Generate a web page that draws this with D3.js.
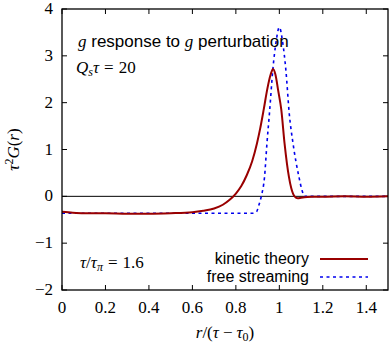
<!DOCTYPE html>
<html>
<head>
<meta charset="utf-8">
<script src="https://cdn.jsdelivr.net/npm/d3@7"></script>
<style>
  body { margin: 0; background: #fff; }
  svg { display: block; }
  .serif { font-family: "Liberation Serif", "DejaVu Serif", serif; }
  .sans { font-family: "Liberation Sans", Arial, sans-serif; }
</style>
</head>
<body>
<div id="chart"></div>
<script>
// kinetic theory curve
const kineticR = [0, 0.05, 0.1, 0.2, 0.3, 0.4, 0.5, 0.6, 0.65, 0.7, 0.74, 0.77, 0.8, 0.825, 0.85, 0.875, 0.897, 0.912, 0.928, 0.945, 0.96, 0.971, 0.982, 0.995, 1.009, 1.024, 1.035, 1.044, 1.055, 1.07, 1.085, 1.1, 1.15, 1.2, 1.3, 1.4, 1.5];
const kineticG = [-0.33, -0.35, -0.36, -0.36, -0.37, -0.37, -0.36, -0.34, -0.31, -0.26, -0.18, -0.08, 0.06, 0.22, 0.45, 0.75, 1.13, 1.45, 1.85, 2.3, 2.6, 2.72, 2.6, 2.25, 1.85, 1.13, 0.7, 0.42, 0.17, 0.0, -0.04, -0.03, -0.01, -0.01, 0.0, -0.01, 0.0];

// free streaming curve
const freeR = [0, 0.2, 0.4, 0.6, 0.8, 0.88, 0.895, 0.905, 0.917, 0.932, 0.943, 0.955, 0.97, 0.985, 1.0, 1.015, 1.03, 1.046, 1.063, 1.09, 1.105, 1.116, 1.13, 1.2, 1.3, 1.4, 1.5];
const freeG = [-0.36, -0.36, -0.36, -0.36, -0.36, -0.36, -0.33, -0.2, 0.0, 0.42, 1.13, 1.8, 2.7, 3.3, 3.61, 3.3, 2.7, 1.75, 1.13, 0.42, 0.12, 0.0, 0.0, 0.0, 0.0, 0.0, 0.0];

const xTicks = [0, 0.2, 0.4, 0.6, 0.8, 1, 1.2, 1.4];
const yTicks = [-2, -1, 0, 1, 2, 3, 4];

const width = 390;
const height = 345;
const marginTop = 9;
const marginRight = 2;
const marginBottom = 55;
const marginLeft = 62;

const x = d3.scaleLinear()
    .domain([0, 1.5])
    .range([marginLeft, width - marginRight]);

const y = d3.scaleLinear()
    .domain([-2, 4])
    .range([height - marginBottom, marginTop]);

const kinetic = kineticR.map((r, i) => ({r, g: kineticG[i]}));
const free = freeR.map((r, i) => ({r, g: freeG[i]}));

const line = d3.line()
    .x(d => x(d.r))
    .y(d => y(d.g))
    .curve(d3.curveMonotoneX);

const svg = d3.create("svg")
    .attr("width", width)
    .attr("height", height);

// zero line
svg.append("line")
    .attr("x1", x(0)).attr("x2", x(1.5))
    .attr("y1", y(0)).attr("y2", y(0))
    .attr("stroke", "#000")
    .attr("stroke-width", 1);

// ticks, inward on all four sides
const tickLen = 5;
const ticks = svg.append("g").attr("stroke", "#000").attr("stroke-width", 1);
xTicks.forEach(t => {
  ticks.append("line").attr("x1", x(t)).attr("x2", x(t)).attr("y1", y(-2)).attr("y2", y(-2) - tickLen);
  ticks.append("line").attr("x1", x(t)).attr("x2", x(t)).attr("y1", y(4)).attr("y2", y(4) + tickLen);
});
yTicks.forEach(t => {
  ticks.append("line").attr("x1", x(0)).attr("x2", x(0) + tickLen).attr("y1", y(t)).attr("y2", y(t));
  ticks.append("line").attr("x1", x(1.5)).attr("x2", x(1.5) - tickLen).attr("y1", y(t)).attr("y2", y(t));
});

const fs = 17;   // serif size
const ss = 17;   // sans size
const sub = 12;

// tick labels
svg.append("g")
    .attr("class", "serif")
    .attr("font-size", fs)
    .attr("text-anchor", "middle")
  .selectAll("text")
  .data(xTicks)
  .join("text")
    .attr("x", d => x(d))
    .attr("y", y(-2) + 23)
    .text(d => d);

svg.append("g")
    .attr("class", "serif")
    .attr("font-size", fs)
    .attr("text-anchor", "end")
  .selectAll("text")
  .data(yTicks)
  .join("text")
    .attr("x", x(0) - 9)
    .attr("y", d => y(d) + 5)
    .text(d => d < 0 ? "\u2212" + Math.abs(d) : d);

// curves
svg.append("path")
    .attr("fill", "none")
    .attr("stroke", "#0000ee")
    .attr("stroke-width", 1.6)
    .attr("stroke-dasharray", "3,3.5")
    .attr("d", line(free));

svg.append("path")
    .attr("fill", "none")
    .attr("stroke", "#990000")
    .attr("stroke-width", 2)
    .attr("d", line(kinetic));

// frame
svg.append("rect")
    .attr("x", x(0)).attr("y", y(4))
    .attr("width", x(1.5) - x(0))
    .attr("height", y(-2) - y(4))
    .attr("fill", "none")
    .attr("stroke", "#000")
    .attr("stroke-width", 1.3);

// annotations
const t1 = svg.append("text").attr("x", 78).attr("y", 47).attr("font-size", ss);
t1.append("tspan").attr("class", "serif").attr("font-style", "italic").text("g");
t1.append("tspan").attr("class", "sans").text(" response to ");
t1.append("tspan").attr("class", "serif").attr("font-style", "italic").text("g");
t1.append("tspan").attr("class", "sans").text(" perturbation");

const t2 = svg.append("text").attr("class", "serif").attr("x", 76).attr("y", 73).attr("font-size", fs);
t2.append("tspan").attr("font-style", "italic").text("Q");
t2.append("tspan").attr("font-style", "italic").attr("font-size", sub).attr("dy", 3).text("s");
t2.append("tspan").attr("font-style", "italic").attr("dy", -3).text("\u03c4");
t2.append("tspan").attr("dx", 5).text("=");
t2.append("tspan").attr("dx", 5).text("20");

const t3 = svg.append("text").attr("class", "serif").attr("x", 80).attr("y", 268).attr("font-size", fs);
t3.append("tspan").attr("font-style", "italic").text("\u03c4");
t3.append("tspan").text("/");
t3.append("tspan").attr("font-style", "italic").text("\u03c4");
t3.append("tspan").attr("font-style", "italic").attr("font-size", sub).attr("dy", 3).text("\u03c0");
t3.append("tspan").attr("dy", -3).attr("dx", 5).text("=");
t3.append("tspan").attr("dx", 5).text("1.6");

// legend
const legend = [
  {label: "kinetic theory", color: "#990000", dash: null, width: 2, y: 259},
  {label: "free streaming", color: "#0000ee", dash: "3,3.5", width: 1.6, y: 277}
];
const lg = svg.append("g");
legend.forEach(d => {
  lg.append("text")
      .attr("class", "sans")
      .attr("font-size", 16)
      .attr("text-anchor", "end")
      .attr("x", 309)
      .attr("y", d.y + 5)
      .text(d.label);
  lg.append("line")
      .attr("x1", 320).attr("x2", 368)
      .attr("y1", d.y).attr("y2", d.y)
      .attr("stroke", d.color)
      .attr("stroke-width", d.width)
      .attr("stroke-dasharray", d.dash);
});

// axis titles
const xt = svg.append("text").attr("class", "serif").attr("font-size", fs)
    .attr("text-anchor", "middle").attr("x", 225).attr("y", 338);
xt.append("tspan").attr("font-style", "italic").text("r");
xt.append("tspan").text("/(");
xt.append("tspan").attr("font-style", "italic").text("\u03c4");
xt.append("tspan").attr("dx", 4).text("\u2212");
xt.append("tspan").attr("dx", 4).attr("font-style", "italic").text("\u03c4");
xt.append("tspan").attr("font-size", sub).attr("dy", 3).text("0");
xt.append("tspan").attr("dy", -3).text(")");

const yt = svg.append("text").attr("class", "serif").attr("font-size", fs)
    .attr("text-anchor", "middle")
    .attr("transform", `translate(19,${(y(4) + y(-2)) / 2}) rotate(-90)`);
yt.append("tspan").attr("font-style", "italic").text("\u03c4");
yt.append("tspan").attr("font-size", sub).attr("dy", -6).text("2");
yt.append("tspan").attr("dy", 6).attr("font-style", "italic").text("G");
yt.append("tspan").text("(");
yt.append("tspan").attr("font-style", "italic").text("r");
yt.append("tspan").text(")");

document.getElementById("chart").append(svg.node());
</script>
</body>
</html>
